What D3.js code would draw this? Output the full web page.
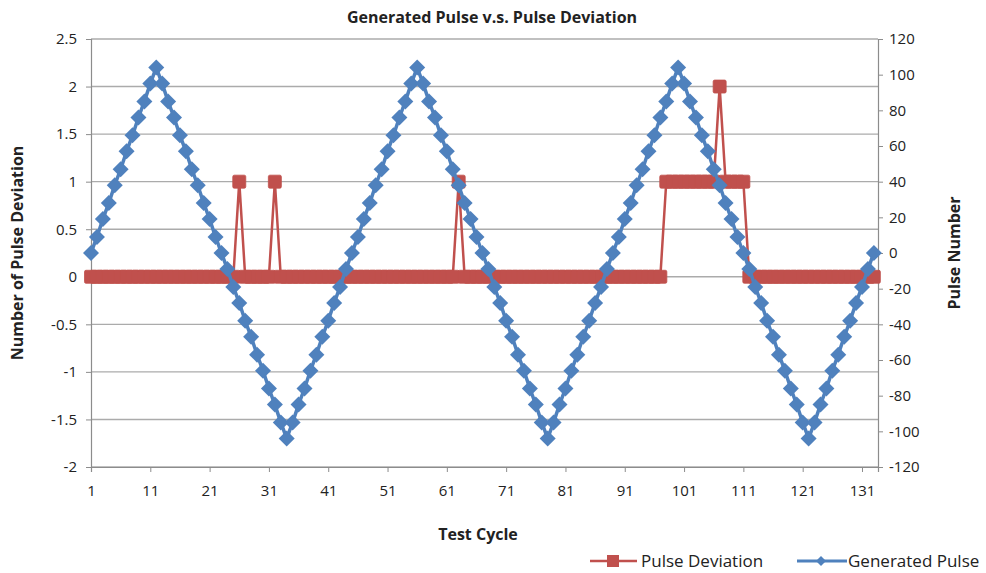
<!DOCTYPE html>
<html><head><meta charset="utf-8">
<script src="https://cdn.jsdelivr.net/npm/d3@7"></script>
<style>
body{margin:0;background:#fff;}
text{font-family:"Open Sans","Liberation Sans",sans-serif;fill:#222;}
</style></head>
<body><svg id="c" width="986" height="573"></svg>
<script>
// Test cycles 1..133
const cycles = d3.range(1, 134);
// Generated Pulse (right axis, Pulse Number)
const generatedPulse = [
 0, 9, 19, 28, 38, 47, 57, 66, 76, 85, 95, 104,
 95, 85, 76, 66, 57, 47, 38, 28, 19, 9, 0, -9, -19, -28, -38, -47, -57, -66, -76, -85, -95, -104,
 -95, -85, -76, -66, -57, -47, -38, -28, -19, -9, 0, 9, 19, 28, 38, 47, 57, 66, 76, 85, 95, 104,
 95, 85, 76, 66, 57, 47, 38, 28, 19, 9, 0, -9, -19, -28, -38, -47, -57, -66, -76, -85, -95, -104,
 -95, -85, -76, -66, -57, -47, -38, -28, -19, -9, 0, 9, 19, 28, 38, 47, 57, 66, 76, 85, 95, 104,
 95, 85, 76, 66, 57, 47, 38, 28, 19, 9, 0, -9, -19, -28, -38, -47, -57, -66, -76, -85, -95, -104,
 -95, -85, -76, -66, -57, -47, -38, -28, -19, -9, 0
];
// Pulse Deviation (left axis)
const pulseDeviation = [
 0,0,0,0,0,0,0,0,0,0, 0,0,0,0,0,0,0,0,0,0, 0,0,0,0,0,1,0,0,0,0, 0,1,0,0,0,0,0,0,0,0,
 0,0,0,0,0,0,0,0,0,0, 0,0,0,0,0,0,0,0,0,0, 0,0,1,0,0,0,0,0,0,0, 0,0,0,0,0,0,0,0,0,0,
 0,0,0,0,0,0,0,0,0,0, 0,0,0,0,0,0,0,1,1,1, 1,1,1,1,1,1,2,1,1,1, 1,0,0,0,0,0,0,0,0,0,
 0,0,0,0,0,0,0,0,0,0, 0,0,0
];
const xTicks = [1, 11, 21, 31, 41, 51, 61, 71, 81, 91, 101, 111, 121, 131];
const leftTicks = [-2, -1.5, -1, -0.5, 0, 0.5, 1, 1.5, 2, 2.5];
const rightTicks = [-120, -100, -80, -60, -40, -20, 0, 20, 40, 60, 80, 100, 120];

const L = 91, R = 878, T = 39, B = 467;
const svg = d3.select("#c");
const x = d3.scaleLinear().domain([1, 133.7]).range([L, R]);
const yL = d3.scaleLinear().domain([-2, 2.5]).range([B, T]);
const yR = d3.scaleLinear().domain([-120, 120]).range([B, T]);
const red = "#c0504d", blue = "#4f81bd";
const fmt = d => String(d);

// gridlines
svg.append("g").selectAll("line").data(leftTicks).join("line")
  .attr("x1", L).attr("x2", R).attr("y1", d => yL(d)).attr("y2", d => yL(d))
  .attr("stroke", "#ababab").attr("stroke-width", 1.4);

// left axis
const gl = svg.append("g").attr("transform", `translate(${L},0)`)
  .call(d3.axisLeft(yL).tickValues(leftTicks).tickSize(5).tickPadding(9).tickFormat(fmt));
// right axis
const gr = svg.append("g").attr("transform", `translate(${R},0)`)
  .call(d3.axisRight(yR).tickValues(rightTicks).tickSize(5).tickPadding(6).tickFormat(fmt));
// bottom axis
const gb = svg.append("g").attr("transform", `translate(0,${B})`)
  .call(d3.axisBottom(x).tickValues(xTicks).tickSize(5).tickPadding(13).tickFormat(fmt));
[gl, gr, gb].forEach(g => {
  g.select(".domain").attr("stroke", "#8c8c8c").attr("stroke-width", 1.2);
  g.selectAll(".tick line").attr("stroke", "#8c8c8c");
  g.selectAll("text").style("font-size", "15px").attr("fill", "#222");
});

// Pulse Deviation series
svg.append("path").datum(pulseDeviation)
  .attr("fill", "none").attr("stroke", red).attr("stroke-width", 2.5)
  .attr("d", d3.line().x((d, i) => x(cycles[i])).y(d => yL(d)));
svg.append("g").selectAll("rect").data(pulseDeviation).join("rect")
  .attr("x", (d, i) => x(cycles[i]) - 6.5).attr("y", d => yL(d) - 6.5)
  .attr("width", 13).attr("height", 13).attr("rx", 1.5)
  .attr("fill", red).attr("stroke", red).attr("stroke-width", 0.8);

// Generated Pulse series
svg.append("path").datum(generatedPulse)
  .attr("fill", "none").attr("stroke", blue).attr("stroke-width", 3.5)
  .attr("d", d3.line().x((d, i) => x(cycles[i])).y(d => yR(d)));
const diamond = "M0,-8L8,0L0,8L-8,0Z";
svg.append("g").selectAll("path").data(generatedPulse).join("path")
  .attr("transform", (d, i) => `translate(${x(cycles[i])},${yR(d)})`)
  .attr("d", diamond).attr("fill", blue);

// titles
svg.append("text").attr("x", 492).attr("y", 23).attr("text-anchor", "middle")
  .style("font-size", "16px").style("font-weight", "bold").text("Generated Pulse v.s. Pulse Deviation");
svg.append("text").attr("x", 478).attr("y", 540).attr("text-anchor", "middle")
  .style("font-size", "16px").style("font-weight", "bold").text("Test Cycle");
svg.append("text").attr("transform", "translate(23,253) rotate(-90)").attr("text-anchor", "middle")
  .style("font-size", "16px").style("font-weight", "bold").text("Number of Pulse Deviation");
svg.append("text").attr("transform", "translate(960,253) rotate(-90)").attr("text-anchor", "middle")
  .style("font-size", "16px").style("font-weight", "bold").text("Pulse Number");

// legend
const lg = svg.append("g");
lg.append("line").attr("x1", 590).attr("x2", 637).attr("y1", 561).attr("y2", 561).attr("stroke", red).attr("stroke-width", 2.5);
lg.append("rect").attr("x", 607).attr("y", 555).attr("width", 12).attr("height", 12).attr("fill", red);
lg.append("text").attr("x", 641).attr("y", 567).style("font-size", "17px").text("Pulse Deviation");
lg.append("line").attr("x1", 797).attr("x2", 847).attr("y1", 561).attr("y2", 561).attr("stroke", blue).attr("stroke-width", 3);
lg.append("path").attr("transform", "translate(821,561)").attr("d", "M0,-5L5,0L0,5L-5,0Z").attr("fill", blue);
lg.append("text").attr("x", 848).attr("y", 567).style("font-size", "17px").text("Generated Pulse");
</script></body></html>
